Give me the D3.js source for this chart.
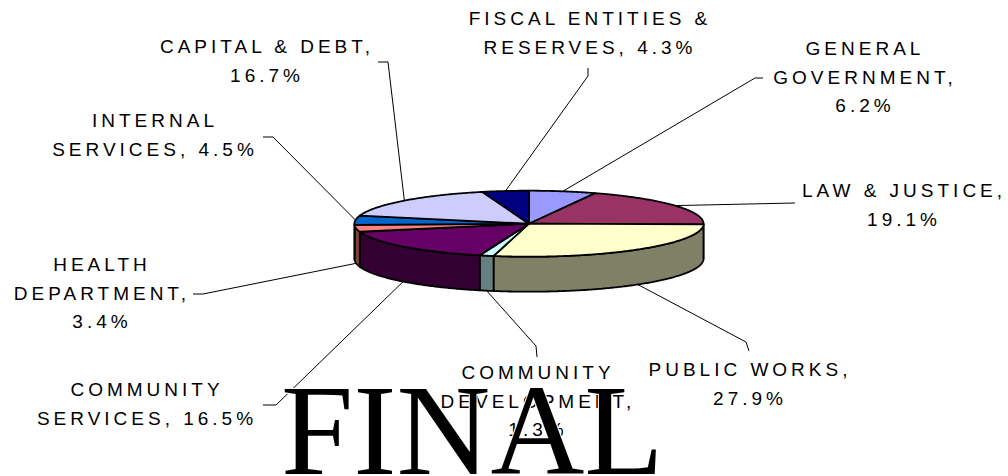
<!DOCTYPE html>
<html>
<head>
<meta charset="utf-8">
<script src="https://cdn.jsdelivr.net/npm/d3@7"></script>
<style>
  html, body { margin: 0; padding: 0; background: #fff; }
  svg { display: block; }
</style>
</head>
<body>
<svg id="chart" width="1008" height="476"></svg>
<script>
// Budget share by department (percent of total)
const categories = [
  "GENERAL GOVERNMENT", "LAW & JUSTICE", "PUBLIC WORKS", "COMMUNITY DEVELOPMENT",
  "COMMUNITY SERVICES", "HEALTH DEPARTMENT", "INTERNAL SERVICES", "CAPITAL & DEBT",
  "FISCAL ENTITIES & RESERVES"
];
const shares = [6.2, 19.1, 27.9, 1.3, 16.5, 3.4, 4.5, 16.7, 4.3];
const sliceColors = [
  "#9999FF", "#993366", "#FFFFCC", "#CCFFFF", "#660066",
  "#FF8080", "#0066CC", "#CCCCFF", "#000080"
];
// Label text, line by line; {v} receives the formatted share
const labelLines = [
  ["GENERAL", "GOVERNMENT,", "{v}"],
  ["LAW & JUSTICE,", "{v}"],
  ["PUBLIC WORKS,", "{v}"],
  ["COMMUNITY", "DEVELOPMENT,", "{v}"],
  ["COMMUNITY", "SERVICES, {v}"],
  ["HEALTH", "DEPARTMENT,", "{v}"],
  ["INTERNAL", "SERVICES, {v}"],
  ["CAPITAL & DEBT,", "{v}"],
  ["FISCAL ENTITIES &", "RESERVES, {v}"]
];

// Layout: label centre / first baseline, and leader-line points from label toward the slice
const labelLayout = [
  { x: 863, y: 55,  leader: [[763, 78], [755, 78]] },
  { x: 902, y: 197, leader: [[795, 203]] },
  { x: 748, y: 376, leader: [[749, 351], [746, 342]] },
  { x: 536, y: 379, leader: [[537, 357], [536, 346]] },
  { x: 145, y: 396, leader: [[263, 405], [276, 405]] },
  { x: 100, y: 271, leader: [[193, 294], [203, 294]] },
  { x: 153, y: 127, leader: [[263, 137], [273, 137]] },
  { x: 265, y: 53,  leader: [[378, 62], [388, 62]] },
  { x: 588, y: 25,  leader: [[588, 68], [588, 76]] }
];

const svg = d3.select("#chart");
svg.append("rect").attr("width", 1008).attr("height", 476).attr("fill", "#fff");

// Pie geometry (tilted disc)
const cx = 529, cy = 223.7, rx = 174.5, ry = 33, depth = 35;
const lineH = 28.5, fontSize = 19, spacing = 4;

const fmt = v => d3.format(".1f")(v) + "%";
const pie = d3.pie().sort(null).value(d => d).startAngle(0).endAngle(2 * Math.PI);
const arcs = pie(shares);

const pt = (a, off = 0) => [cx + rx * Math.sin(a), cy - ry * Math.cos(a) + off];
const sample = (a0, a1, off = 0) => {
  const n = Math.max(2, Math.ceil(Math.abs(a1 - a0) / 0.01));
  return d3.range(n + 1).map(i => pt(a0 + (a1 - a0) * i / n, off));
};
const line = d3.line();
const darker = c => { const k = d3.rgb(c); return d3.rgb(k.r * 0.5, k.g * 0.5, k.b * 0.5).formatHex(); };

const pieG = svg.append("g");

// Side walls of the front half
arcs.forEach((d, i) => {
  const s0 = Math.max(d.startAngle, Math.PI / 2);
  const s1 = Math.min(d.endAngle, 3 * Math.PI / 2);
  if (s1 <= s0) return;
  const pts = sample(s0, s1).concat(sample(s1, s0, depth));
  pieG.append("path")
    .attr("d", line(pts) + "Z")
    .attr("fill", darker(sliceColors[i]))
    .attr("stroke", "#000")
    .attr("stroke-width", 1.8)
    .attr("stroke-linejoin", "round");
});

// Top faces
arcs.forEach((d, i) => {
  const pts = [[cx, cy]].concat(sample(d.startAngle, d.endAngle));
  pieG.append("path")
    .attr("d", line(pts) + "Z")
    .attr("fill", sliceColors[i])
    .attr("stroke", "#000")
    .attr("stroke-width", 1.8)
    .attr("stroke-linejoin", "round");
});

// Leader lines
const leaderG = svg.append("g");
arcs.forEach((d, i) => {
  const mid = (d.startAngle + d.endAngle) / 2;
  const anchor = Math.cos(mid) < 0 ? pt(mid, depth) : pt(mid);
  const pts = labelLayout[i].leader.concat([anchor]);
  leaderG.append("path")
    .attr("d", line(pts))
    .attr("fill", "none")
    .attr("stroke", "#000")
    .attr("stroke-width", 1);
});

// Data labels
const labelG = svg.append("g")
  .attr("font-family", "'Liberation Sans', Arial, sans-serif")
  .attr("font-size", fontSize)
  .attr("letter-spacing", spacing)
  .attr("fill", "#000")
  .attr("text-anchor", "middle");
arcs.forEach((d, i) => {
  const L = labelLayout[i];
  const t = labelG.append("text");
  labelLines[i].forEach((s, j) => {
    t.append("tspan")
      .attr("x", L.x + spacing / 2)
      .attr("y", L.y + j * lineH)
      .text(s.replace("{v}", fmt(shares[i])));
  });
});

// Watermark
svg.append("text")
  .attr("x", 281)
  .attr("y", 474)
  .attr("font-family", "'Liberation Serif', 'Times New Roman', serif")
  .attr("font-size", 130)
  .attr("fill", "#000")
  .attr("stroke", "#fff")
  .attr("stroke-width", 2)
  .attr("paint-order", "stroke")
  .text("FINAL");
</script>
</body>
</html>
